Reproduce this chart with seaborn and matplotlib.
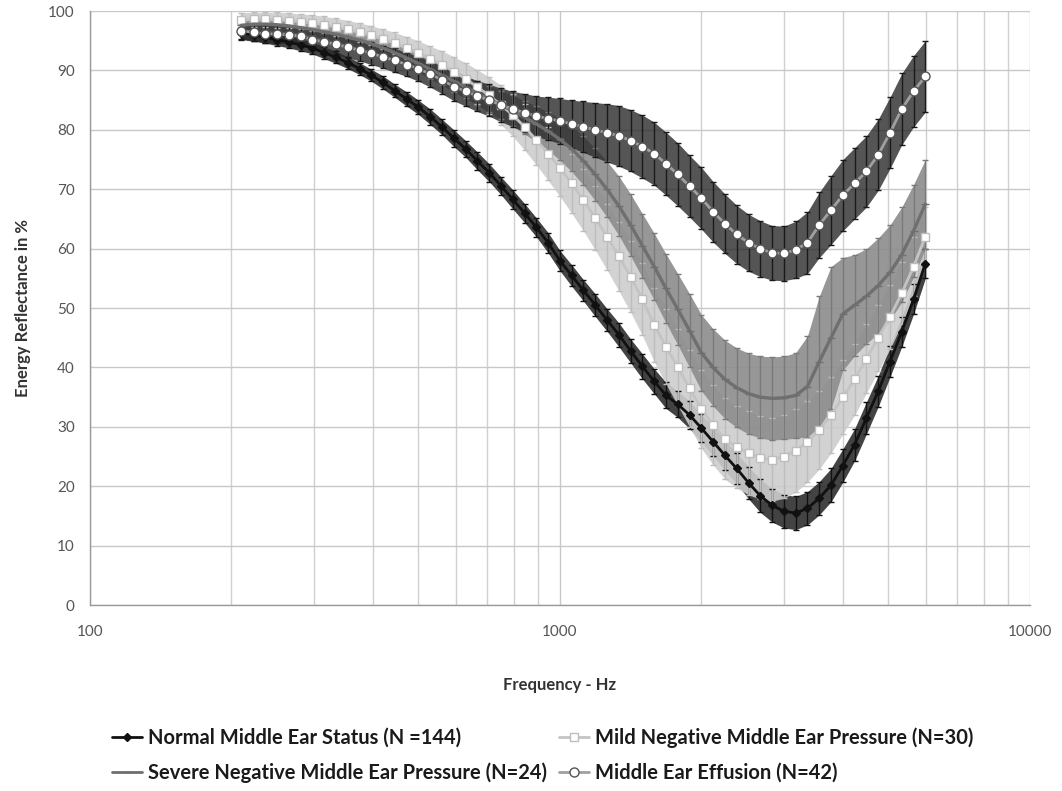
import matplotlib
matplotlib.use("Agg")
import matplotlib.pyplot as plt
from matplotlib.lines import Line2D
from matplotlib.ticker import FixedLocator, FixedFormatter, NullFormatter, LogLocator
import numpy as np
import pandas as pd
import seaborn as sns

# Frequencies (Hz) at which reflectance was averaged
freq = [210, 223, 236, 250, 265, 281, 297, 315, 334, 354, 375, 397, 420, 445,
        472, 500, 530, 561, 595, 630, 667, 707, 749, 794, 841, 891, 944, 1000,
        1059, 1122, 1189, 1260, 1335, 1414, 1498, 1587, 1682, 1782, 1888, 2000,
        2119, 2245, 2378, 2520, 2670, 2828, 2997, 3175, 3364, 3564, 3775, 4000,
        4238, 4490, 4757, 5040, 5339, 5657, 5993]

# Mean energy reflectance (%) per group
normal_mean = [96.3, 96.0, 95.6, 95.2, 94.8, 94.3, 93.8, 93.0, 92.2, 91.3, 90.3, 89.2,
               88.0, 86.6, 85.2, 83.8, 82.2, 80.5, 78.6, 76.8, 74.8, 72.8, 70.6, 68.3,
               66.0, 63.6, 61.0, 58.0, 55.5, 53.0, 50.5, 48.0, 45.5, 42.8, 40.2, 37.7,
               35.3, 33.8, 32.0, 29.8, 27.5, 25.2, 23.0, 20.6, 18.4, 16.8, 15.8, 15.5,
               16.3, 18.0, 20.2, 23.5, 27.0, 31.5, 36.0, 41.0, 46.0, 51.5, 57.5]
mild_mean = [98.5, 98.6, 98.6, 98.5, 98.4, 98.2, 98.0, 97.7, 97.3, 96.9, 96.4, 95.9,
             95.3, 94.6, 93.8, 93.0, 92.0, 91.0, 89.8, 88.6, 87.2, 85.8, 84.2, 82.5,
             80.5, 78.3, 76.0, 73.6, 71.0, 68.2, 65.2, 62.0, 58.7, 55.3, 51.5, 47.2,
             43.5, 40.0, 36.5, 33.0, 30.3, 28.0, 26.6, 25.6, 24.8, 24.5, 25.0, 26.0,
             27.5, 29.5, 32.0, 35.0, 38.0, 41.5, 45.0, 48.5, 52.5, 57.0, 62.0]
severe_mean = [97.6, 97.8, 97.8, 97.7, 97.5, 97.2, 96.9, 96.5, 96.1, 95.6, 95.1, 94.5,
               93.8, 93.0, 92.1, 91.2, 90.2, 89.2, 88.2, 87.2, 86.2, 85.2, 84.2, 83.2,
               82.1, 81.0, 79.8, 78.4, 76.8, 74.8, 72.5, 70.0, 67.2, 64.0, 60.5, 57.0,
               53.3, 49.8, 46.2, 42.5, 40.0, 38.0, 36.6, 35.6, 35.0, 34.8, 34.9, 35.3,
               36.8, 41.0, 45.0, 49.0, 50.5, 52.0, 53.8, 56.0, 59.0, 63.0, 67.5]
effusion_mean = [96.7, 96.4, 96.2, 96.1, 96.0, 95.8, 95.2, 94.8, 94.4, 93.9, 93.4, 92.9,
                 92.3, 91.7, 91.0, 90.3, 89.4, 88.4, 87.3, 86.5, 85.7, 85.0, 84.2, 83.5,
                 82.9, 82.3, 81.9, 81.5, 81.0, 80.5, 80.0, 79.5, 79.0, 78.2, 77.2, 76.0,
                 74.3, 72.5, 70.5, 68.5, 66.2, 64.2, 62.4, 61.0, 60.0, 59.3, 59.2, 59.8,
                 61.0, 64.0, 66.5, 69.0, 71.0, 73.0, 75.8, 79.5, 83.5, 86.5, 89.0]

# Error bar half-widths (%) per group
normal_err = [1.0, 1.0, 1.0, 1.0, 1.0, 1.0, 1.0, 1.0, 1.0, 1.0, 1.0, 1.0,
              1.1, 1.1, 1.2, 1.2, 1.3, 1.3, 1.4, 1.4, 1.5, 1.5, 1.5, 1.6,
              1.6, 1.6, 1.7, 1.7, 1.8, 1.8, 1.9, 1.9, 2.0, 2.0, 2.1, 2.1,
              2.2, 2.2, 2.3, 2.3, 2.4, 2.5, 2.6, 2.7, 2.8, 2.8, 2.8, 2.8,
              2.8, 2.8, 2.8, 2.8, 2.7, 2.7, 2.6, 2.6, 2.5, 2.5, 2.5]
mild_err = [1.2, 1.2, 1.2, 1.3, 1.3, 1.3, 1.4, 1.4, 1.5, 1.5, 1.6, 1.6,
            1.7, 1.8, 1.9, 2.0, 2.1, 2.3, 2.5, 2.7, 2.9, 3.1, 3.3, 3.6,
            3.9, 4.2, 4.5, 4.8, 5.0, 5.2, 5.4, 5.6, 5.8, 6.0, 6.1, 6.2,
            6.3, 6.4, 6.5, 6.6, 6.7, 6.8, 6.9, 7.0, 7.0, 7.0, 7.0, 7.0,
            6.8, 6.6, 6.4, 6.2, 6.0, 5.8, 5.6, 5.4, 5.2, 5.0, 5.0]
severe_err = [1.0, 1.0, 1.0, 1.0, 1.0, 1.0, 1.1, 1.1, 1.2, 1.2, 1.3, 1.3,
              1.4, 1.4, 1.5, 1.5, 1.6, 1.7, 1.8, 1.9, 2.0, 2.2, 2.4, 2.6,
              2.8, 3.0, 3.2, 3.5, 3.8, 4.1, 4.4, 4.7, 5.0, 5.2, 5.4, 5.6,
              5.8, 6.0, 6.2, 6.4, 6.5, 6.6, 6.7, 6.8, 6.9, 7.0, 7.0, 7.2,
              8.5, 11.0, 12.0, 9.5, 8.5, 8.0, 8.0, 8.0, 8.0, 7.8, 7.5]
effusion_err = [1.5, 1.5, 1.5, 1.5, 1.5, 1.6, 1.6, 1.7, 1.7, 1.8, 1.8, 1.9,
                1.9, 2.0, 2.0, 2.1, 2.2, 2.3, 2.4, 2.5, 2.6, 2.7, 2.8, 3.0,
                3.2, 3.4, 3.6, 3.8, 4.0, 4.3, 4.6, 4.9, 5.1, 5.2, 5.3, 5.3,
                5.3, 5.3, 5.2, 5.2, 5.1, 5.0, 4.9, 4.8, 4.7, 4.6, 4.6, 4.8,
                5.2, 5.5, 5.8, 6.0, 6.0, 6.0, 6.0, 6.0, 6.0, 6.0, 6.0]

labels = ["Normal Middle Ear Status (N =144)",
          "Mild Negative Middle Ear Pressure (N=30)",
          "Severe Negative Middle Ear Pressure (N=24)",
          "Middle Ear Effusion (N=42)"]

df = pd.DataFrame({
    "freq": freq * 4,
    "mean": normal_mean + mild_mean + severe_mean + effusion_mean,
    "err": normal_err + mild_err + severe_err + effusion_err,
    "group": sum([[lab] * len(freq) for lab in labels], []),
})

styles = {
    labels[0]: dict(line="#111111", band="#222222", bar="#111111", marker="D",
                    mfc="#111111", mec="#111111", ms=4.5, lw=2.0, band_alpha=0.85),
    labels[1]: dict(line="#c4c4c4", band="#cdcdcd", bar="#bdbdbd", marker="s",
                    mfc="white", mec="#bdbdbd", ms=5.5, lw=2.0, band_alpha=0.9),
    labels[2]: dict(line="#6f6f6f", band="#8c8c8c", bar="#7a7a7a", marker="_",
                    mfc="#6f6f6f", mec="#6f6f6f", ms=6, lw=2.4, band_alpha=0.9),
    labels[3]: dict(line="#a0a0a0", band="#2a2a2a", bar="#1a1a1a", marker="o",
                    mfc="white", mec="#555555", ms=6.5, lw=2.0, band_alpha=0.8),
}

sns.set_theme(style="white")
plt.rcParams["font.family"] = ["Lato", "DejaVu Sans"]

fig = plt.figure(figsize=(10.62, 7.91), dpi=100)
ax = fig.add_axes([0.0847, 0.235, 0.885, 0.751])

for lab in labels:
    st = styles[lab]
    sub = df[df["group"] == lab]
    lo = sub["mean"] - sub["err"]
    hi = sub["mean"] + sub["err"]
    ax.fill_between(sub["freq"], lo, hi, color=st["band"], alpha=st["band_alpha"],
                    linewidth=0, zorder=2)
    ax.errorbar(sub["freq"], sub["mean"], yerr=sub["err"], fmt="none",
                ecolor=st["bar"], elinewidth=1.0, capsize=2.5, capthick=1.0, zorder=3)
    sns.lineplot(data=sub, x="freq", y="mean", ax=ax, color=st["line"],
                 linewidth=st["lw"], marker=st["marker"], markersize=st["ms"],
                 markerfacecolor=st["mfc"], markeredgecolor=st["mec"],
                 markeredgewidth=1.0, zorder=4, legend=False, errorbar=None)

ax.set_xscale("log")
ax.set_xlim(100, 10000)
ax.set_ylim(0, 100)
ax.set_yticks(np.arange(0, 101, 10))
ax.xaxis.set_major_locator(FixedLocator([100, 1000, 10000]))
ax.xaxis.set_major_formatter(FixedFormatter(["100", "1000", "10000"]))
ax.xaxis.set_minor_locator(LogLocator(base=10, subs=np.arange(2, 10)))
ax.xaxis.set_minor_formatter(NullFormatter())

ax.grid(True, which="major", axis="both", color="#c8c8c8", linewidth=1.0)
ax.grid(True, which="minor", axis="x", color="#d0d0d0", linewidth=1.0)
ax.set_axisbelow(True)

for side in ["top", "right"]:
    ax.spines[side].set_visible(False)
for side in ["left", "bottom"]:
    ax.spines[side].set_color("#9a9a9a")
    ax.spines[side].set_linewidth(1.0)

ax.tick_params(axis="y", which="major", direction="out", length=5, width=1,
               color="#9a9a9a", labelsize=11, labelcolor="#555555", pad=6)
ax.tick_params(axis="x", which="both", length=0, labelsize=11,
               labelcolor="#555555", pad=14)

ax.set_xlabel("Frequency - Hz", fontsize=12, fontweight="bold", color="#333333",
              labelpad=28)
ax.set_ylabel("Energy Reflectance in %", fontsize=12, fontweight="bold",
              color="#333333", labelpad=12)

handles = []
for lab in [labels[0], labels[2], labels[1], labels[3]]:
    st = styles[lab]
    handles.append(Line2D([0], [0], color=st["line"], linewidth=2.0, marker=st["marker"],
                          markersize=st["ms"], markerfacecolor=st["mfc"],
                          markeredgecolor=st["mec"], label=lab))
leg = fig.legend(handles=handles, loc="center left", bbox_to_anchor=(0.088, 0.045),
                 ncol=2, frameon=False, fontsize=14.5, handlelength=1.5,
                 handletextpad=0.3, columnspacing=0.6, labelspacing=0.72)
for t in leg.get_texts():
    t.set_color("#1a1a1a")
    t.set_fontweight("bold")

fig.savefig("out.png", dpi=100, facecolor="white")
